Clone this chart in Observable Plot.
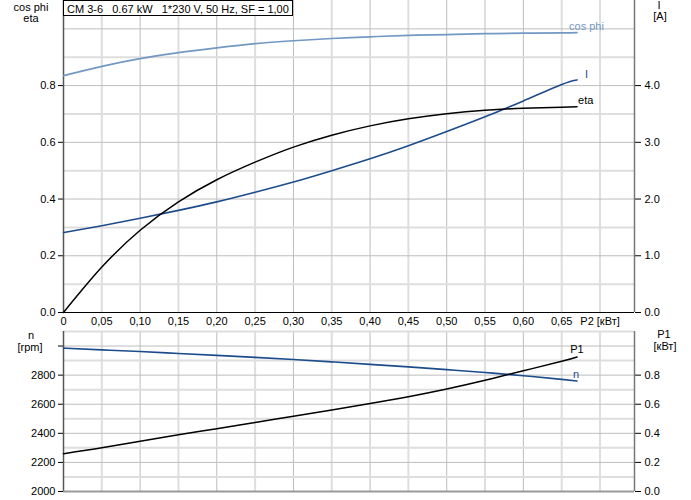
<!DOCTYPE html>
<html><head><meta charset="utf-8">
<script src="https://cdn.jsdelivr.net/npm/d3@7"></script>
<script src="https://cdn.jsdelivr.net/npm/@observablehq/plot@0.6"></script>
<style>
body{margin:0;background:#fff;font-family:"Liberation Sans",Arial,sans-serif;}
#wrap{position:relative;width:691px;height:500px;overflow:hidden;}
#wrap svg{position:absolute;left:0;}
.t{position:absolute;font-size:11px;line-height:10px;color:#000;width:60px;margin-left:-30px;text-align:center;white-space:nowrap;}
#hdr{position:absolute;left:63px;top:0;height:16px;line-height:16px;border:1px solid #000;background:#fff;font-size:11px;padding:0 3px;white-space:pre;box-sizing:border-box;}
</style></head><body>
<div id="wrap"></div>
<script>
// ---- data ----
const p2      = [0, 0.05, 0.10, 0.15, 0.20, 0.25, 0.30, 0.35, 0.40, 0.45, 0.50, 0.55, 0.60, 0.65, 0.67];
const cosPhi  = [0.835, 0.868, 0.895, 0.916, 0.933, 0.948, 0.958, 0.966, 0.972, 0.977, 0.980, 0.983, 0.985, 0.986, 0.987];
const eta     = [0, 0.16, 0.29, 0.39, 0.468, 0.53, 0.583, 0.625, 0.658, 0.683, 0.701, 0.713, 0.72, 0.724, 0.725];
const current = [1.41, 1.53, 1.66, 1.80, 1.95, 2.12, 2.30, 2.50, 2.71, 2.94, 3.19, 3.45, 3.73, 4.02, 4.10];
const speed   = [2986, 2974, 2962, 2949, 2936, 2922, 2907, 2891, 2874, 2857, 2838, 2818, 2796, 2771, 2760];
const p1      = [0.26, 0.30, 0.345, 0.39, 0.432, 0.475, 0.517, 0.56, 0.605, 0.652, 0.705, 0.765, 0.83, 0.895, 0.925];

const xTicks   = [0, 0.05, 0.10, 0.15, 0.20, 0.25, 0.30, 0.35, 0.40, 0.45, 0.50, 0.55, 0.60, 0.65, 0.70];
const xMajor   = [0.10, 0.20, 0.30, 0.40, 0.50, 0.60, 0.70];
const xMinor   = [0.05, 0.15, 0.25, 0.35, 0.45, 0.55, 0.65];
const leftTicks = [0, 0.2, 0.4, 0.6, 0.8];
const iTicks    = [0, 1, 2, 3, 4];
const nTicks    = [2000, 2200, 2400, 2600, 2800, 3000];
const p1Ticks   = [0, 0.2, 0.4, 0.6, 0.8];
const yMajorTop = [0.2, 0.4, 0.6, 0.8, 1.0];
const yMinorTop = [0.1, 0.3, 0.5, 0.7, 0.9];
const nMajor    = [2200, 2400, 2600, 2800, 3000];
const nMinor    = [2100, 2300, 2500, 2700, 2900, 3100];

const xDomain = [0, 0.745];
const iScale = 5;      // I axis = left axis * 5
const font = "Liberation Sans, Arial, sans-serif";

const rows = p2.map((x, i) => ({
  x, cos: cosPhi[i], eta: eta[i], iL: current[i] / iScale,
  n: speed[i], p1y: 2000 + p1[i] * 1000
}));
const last = rows[rows.length - 1];

const cLight = "#7399c3", cDark = "#1d4c8c";
const gMajor = "#bdbdbd", gMinor = "#dedede";

const fmtX = d => d === 0 ? "0" : Math.abs(d - 0.7) < 1e-9 ? "P2 [кВт]" : d.toFixed(2).replace(".", ",");

const topPlot = Plot.plot({
  width: 691, height: 330,
  marginLeft: 63, marginRight: 57, marginTop: 0, marginBottom: 18,
  style: {fontFamily: font, fontSize: "11px", background: "transparent", overflow: "visible"},
  x: {domain: xDomain},
  y: {domain: [0, 1.1]},
  marks: [
    Plot.ruleX(xMinor, {stroke: gMinor, strokeWidth: 2}),
    Plot.ruleX(xMajor, {stroke: gMajor}),
    Plot.ruleY(yMinorTop, {stroke: gMinor, strokeWidth: 2}),
    Plot.ruleY(yMajorTop, {stroke: gMajor}),
    Plot.axisX({ticks: xTicks, tickSize: 0, tickPadding: 5, tickFormat: fmtX, label: null}),
    Plot.axisY({ticks: leftTicks, tickSize: 5, tickPadding: 3, tickFormat: d => d.toFixed(1), label: null}),
    Plot.axisY({anchor: "right", ticks: iTicks.map(d => d / iScale), tickSize: 6, tickPadding: 4,
                tickFormat: d => (d * iScale).toFixed(1), label: null}),
    Plot.ruleX([xDomain[0]], {stroke: "#555", strokeWidth: 1.5}),
    Plot.ruleX([xDomain[1]], {stroke: "#777", strokeWidth: 1.5}),
    Plot.ruleY([0], {stroke: "#000", strokeWidth: 1.2}),
    Plot.line(rows, {x: "x", y: "cos", stroke: cLight, strokeWidth: 1.7, curve: "natural"}),
    Plot.line(rows, {x: "x", y: "iL", stroke: cDark, strokeWidth: 1.6, curve: "natural"}),
    Plot.line(rows, {x: "x", y: "eta", stroke: "#000", strokeWidth: 1.5, curve: "natural"}),
    Plot.text([last], {x: "x", y: "cos", text: () => "cos phi", dx: -8, dy: -6, textAnchor: "start", fill: cLight}),
    Plot.text([last], {x: "x", y: "iL", text: () => "I", dx: 8, dy: -5, textAnchor: "start", fill: cDark}),
    Plot.text([last], {x: "x", y: "eta", text: () => "eta", dx: 1, dy: -6, textAnchor: "start", fill: "#000"})
  ]
});

const botPlot = Plot.plot({
  width: 691, height: 169,
  marginLeft: 63, marginRight: 57, marginTop: 0, marginBottom: 9,
  style: {fontFamily: font, fontSize: "11px", background: "transparent", overflow: "visible"},
  x: {domain: xDomain, axis: null},
  y: {domain: [2000, 3100]},
  marks: [
    Plot.ruleX(xMinor, {stroke: gMinor, strokeWidth: 2}),
    Plot.ruleX(xMajor, {stroke: gMajor}),
    Plot.ruleY(nMinor, {stroke: gMinor, strokeWidth: 2}),
    Plot.ruleY(nMajor, {stroke: gMajor}),
    Plot.axisY({ticks: nTicks, tickSize: 5, tickPadding: 3, tickFormat: d => d === 3000 ? "" : String(d), label: null}),
    Plot.axisY({anchor: "right", ticks: p1Ticks.map(d => 2000 + d * 1000), tickSize: 6, tickPadding: 4,
                tickFormat: d => ((d - 2000) / 1000).toFixed(1), label: null}),
    Plot.ruleX([xDomain[0]], {stroke: "#555", strokeWidth: 1.5}),
    Plot.ruleX([xDomain[1]], {stroke: "#777", strokeWidth: 1.5}),
    Plot.ruleY([2000], {stroke: "#999", strokeWidth: 2}),
    Plot.line(rows, {x: "x", y: "n", stroke: cDark, strokeWidth: 1.6, curve: "natural"}),
    Plot.line(rows, {x: "x", y: "p1y", stroke: "#000", strokeWidth: 1.5, curve: "natural"}),
    Plot.text([last], {x: "x", y: "p1y", text: () => "P1", dy: -7, textAnchor: "middle", fill: "#000"}),
    Plot.text([last], {x: "x", y: "n", text: () => "n", dx: -1, dy: -6, textAnchor: "middle", fill: cDark})
  ]
});

const wrap = document.getElementById("wrap");
topPlot.style.top = "0px";
botPlot.style.top = "331px";
wrap.appendChild(topPlot);
wrap.appendChild(botPlot);

const hdr = document.createElement("div");
hdr.id = "hdr";
hdr.textContent = "CM 3-6   0.67 kW   1*230 V, 50 Hz, SF = 1,00";
wrap.appendChild(hdr);

const titles = [
  ["cos phi", 31, 2], ["eta", 31, 13],
  ["I", 659, 0], ["[A]", 660, 11],
  ["n", 31, 330], ["[rpm]", 30, 342],
  ["P1", 664, 329], ["[кВт]", 665, 341]
];
for (const [txt, x, y] of titles) {
  const d = document.createElement("div");
  d.className = "t";
  d.style.left = x + "px";
  d.style.top = y + "px";
  d.textContent = txt;
  wrap.appendChild(d);
}
</script>
</body></html>
